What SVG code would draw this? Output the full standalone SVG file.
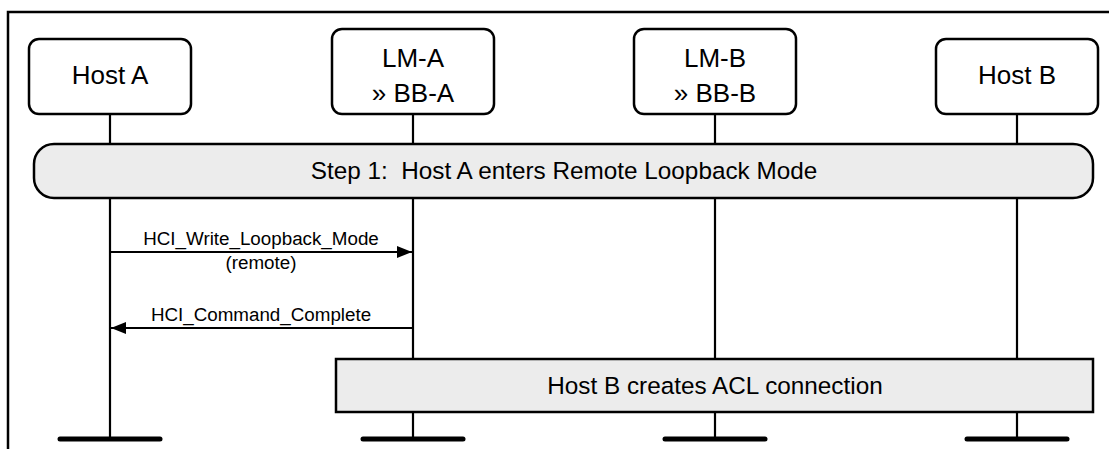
<svg xmlns="http://www.w3.org/2000/svg" width="1109" height="449" viewBox="0 0 1109 449">
  <style>
    .node rect { fill: #ffffff; stroke: #000000; stroke-width: 2.5; }
    .node text { font-family: "Liberation Sans", Arial, sans-serif; font-size: 26px; text-anchor: middle; fill: #000; }
    .life { stroke: #000; stroke-width: 2.2; fill: none; }
    .bar { stroke: #000; stroke-width: 5; stroke-linecap: round; }
    .band { fill: #ececec; stroke: #000; stroke-width: 2.5; }
    .bandtext { font-family: "Liberation Sans", Arial, sans-serif; font-size: 24.3px; text-anchor: middle; fill: #000; }
    .msg { stroke: #000; stroke-width: 2.2; fill: none; marker-end: url(#arrow); }
    .msgtext { font-family: "Liberation Sans", Arial, sans-serif; font-size: 18.8px; text-anchor: middle; fill: #000; }
  </style>
  <defs>
    <marker id="arrow" markerWidth="15" markerHeight="12" refX="15" refY="6" orient="auto" markerUnits="userSpaceOnUse">
      <path d="M0,0 L15,6 L0,12 Z" fill="#000"/>
    </marker>
  </defs>
  <rect x="0" y="0" width="1109" height="449" fill="#ffffff"/>
  <path d="M8,449 L8,12 L1109,12" fill="none" stroke="#000" stroke-width="2.5"/>

  <g id="lifelines">
    <line class="life" x1="110" y1="114" x2="110" y2="439"/>
    <line class="life" x1="413" y1="114" x2="413" y2="439"/>
    <line class="life" x1="715" y1="114" x2="715" y2="439"/>
    <line class="life" x1="1017" y1="114" x2="1017" y2="439"/>
    <line class="bar" x1="60" y1="439" x2="160" y2="439"/>
    <line class="bar" x1="363" y1="439" x2="463" y2="439"/>
    <line class="bar" x1="665" y1="439" x2="765" y2="439"/>
    <line class="bar" x1="967" y1="439" x2="1067" y2="439"/>
  </g>

  <g id="hostA" class="node">
    <rect x="29" y="39" width="162" height="75" rx="10"/>
    <text x="110" y="84">Host A</text>
  </g>
  <g id="lmA" class="node">
    <rect x="332" y="29" width="162" height="85" rx="10"/>
    <text x="413" y="67">LM-A</text>
    <text x="413" y="102">» BB-A</text>
  </g>
  <g id="lmB" class="node">
    <rect x="634" y="29" width="162" height="85" rx="10"/>
    <text x="715" y="67">LM-B</text>
    <text x="715" y="102">» BB-B</text>
  </g>
  <g id="hostB" class="node">
    <rect x="936" y="39" width="162" height="75" rx="10"/>
    <text x="1017" y="84">Host B</text>
  </g>

  <g id="step1">
    <rect class="band" x="34" y="144" width="1059" height="54" rx="20"/>
    <text class="bandtext" x="564" y="179" xml:space="preserve">Step 1:  Host A enters Remote Loopback Mode</text>
  </g>

  <g id="connectors">
    <line class="msg" x1="110" y1="252" x2="412" y2="252"/>
    <text class="msgtext" x="261" y="245">HCI_Write_Loopback_Mode</text>
    <text class="msgtext" x="261" y="269">(remote)</text>
    <line class="msg" x1="413" y1="328" x2="111" y2="328"/>
    <text class="msgtext" x="261" y="321">HCI_Command_Complete</text>
  </g>

  <g id="aclBox">
    <rect class="band" x="336" y="359" width="757" height="53"/>
    <text class="bandtext" x="715" y="394">Host B creates ACL connection</text>
  </g>
</svg>
